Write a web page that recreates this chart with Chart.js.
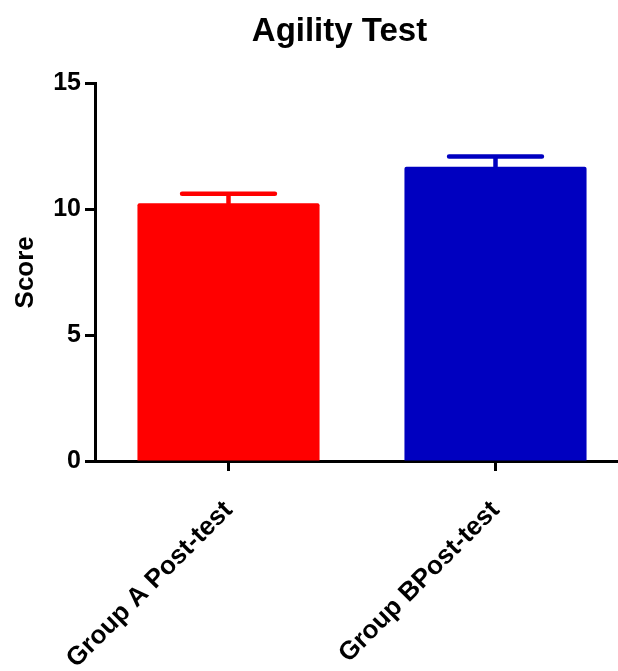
<!DOCTYPE html>
<html>
<head>
<meta charset="utf-8">
<title>Agility Test</title>
<script src="https://cdn.jsdelivr.net/npm/chart.js@4"></script>
<style>
body{margin:0;background:#fff;}
#wrap{width:618px;height:671px;overflow:hidden;}
</style>
</head>
<body>
<div id="wrap"><canvas id="agilityChart" width="640" height="671"></canvas></div>
<script>

const categories = ["Group A Post-test", "Group BPost-test"];

const means = [10.24, 11.7];

const errors = [0.38, 0.40];

const barColors = ["#FF0000", "#0000C0"];

const yTicks = [0, 5, 10, 15];

const FONT = "'Liberation Sans', Arial, sans-serif";

// upward-only error bars with a cap, same colour as the bar
const errorBars = {

id:"errorBars",

afterDatasetsDraw(chart){

const meta = chart.getDatasetMeta(0);

const y = chart.scales.y;

const ctx = chart.ctx;

meta.data.forEach(function(bar, i){

const top = y.getPixelForValue(means[i] + errors[i]);

const half = bar.width * 0.255;

ctx.save();

ctx.strokeStyle = barColors[i];

ctx.lineWidth = 4.5;

ctx.lineCap = "round";

ctx.beginPath();

ctx.moveTo(bar.x, bar.y);

ctx.lineTo(bar.x, top);

ctx.moveTo(bar.x - half, top);

ctx.lineTo(bar.x + half, top);

ctx.stroke();

ctx.restore();

});

}

};

// nudge the title so it sits over the plot like in the original figure
const titleShift = {

id:"titleShift",

afterLayout(chart){

const t = chart.titleBlock;

if(t){ t.left += 25; t.right += 25; }

}

};

function loadAgilityChart(){

new Chart(

document.getElementById("agilityChart"),

{

type:"bar",

data:{

labels:categories,

datasets:[{

label:"Score",

data:means,

backgroundColor:barColors,

borderWidth:0,

borderRadius:2,

categoryPercentage:1,

barPercentage:0.682

}]

},

options:{

responsive:false,

animation:false,

devicePixelRatio:1,

layout:{ padding:{ left:0, right:11, top:0, bottom:0 } },

plugins:{

legend:{ display:false },

tooltip:{ enabled:false },

title:{

display:true,

text:"Agility Test",

color:"#000",

font:{ family:FONT, size:33, weight:"bold" },

padding:{ top:12, bottom:32 }

}

},

scales:{

x:{

z:1,

offset:true,

grid:{ offset:false, drawOnChartArea:false, drawTicks:true, tickLength:10, tickWidth:3, tickColor:"#000" },

border:{ display:true, color:"#000", width:3 },

ticks:{

color:"#000",

font:{ family:FONT, size:26, weight:"bold" },

minRotation:45,

maxRotation:45,

autoSkip:false,

padding:24

},

afterFit(scale){ scale.height = 210; }

},

y:{

z:1,

min:yTicks[0],

max:yTicks[yTicks.length-1],

afterBuildTicks(scale){ scale.ticks = yTicks.map(function(v){ return {value:v}; }); },

grid:{ drawOnChartArea:false, drawTicks:true, tickLength:10, tickWidth:3, tickColor:"#000" },

border:{ display:true, color:"#000", width:3 },

ticks:{

color:"#000",

font:{ family:FONT, size:25, weight:"bold" },

padding:4

},

title:{

display:true,

text:"Score",

color:"#000",

font:{ family:FONT, size:26, weight:"bold" },

padding:{ top:10, bottom:0 }

},

afterFit(scale){ scale.width = 95; }

}

}

},

plugins:[errorBars, titleShift]

}

);

}

window.onload = function(){

loadAgilityChart();

};

</script>
</body>
</html>
